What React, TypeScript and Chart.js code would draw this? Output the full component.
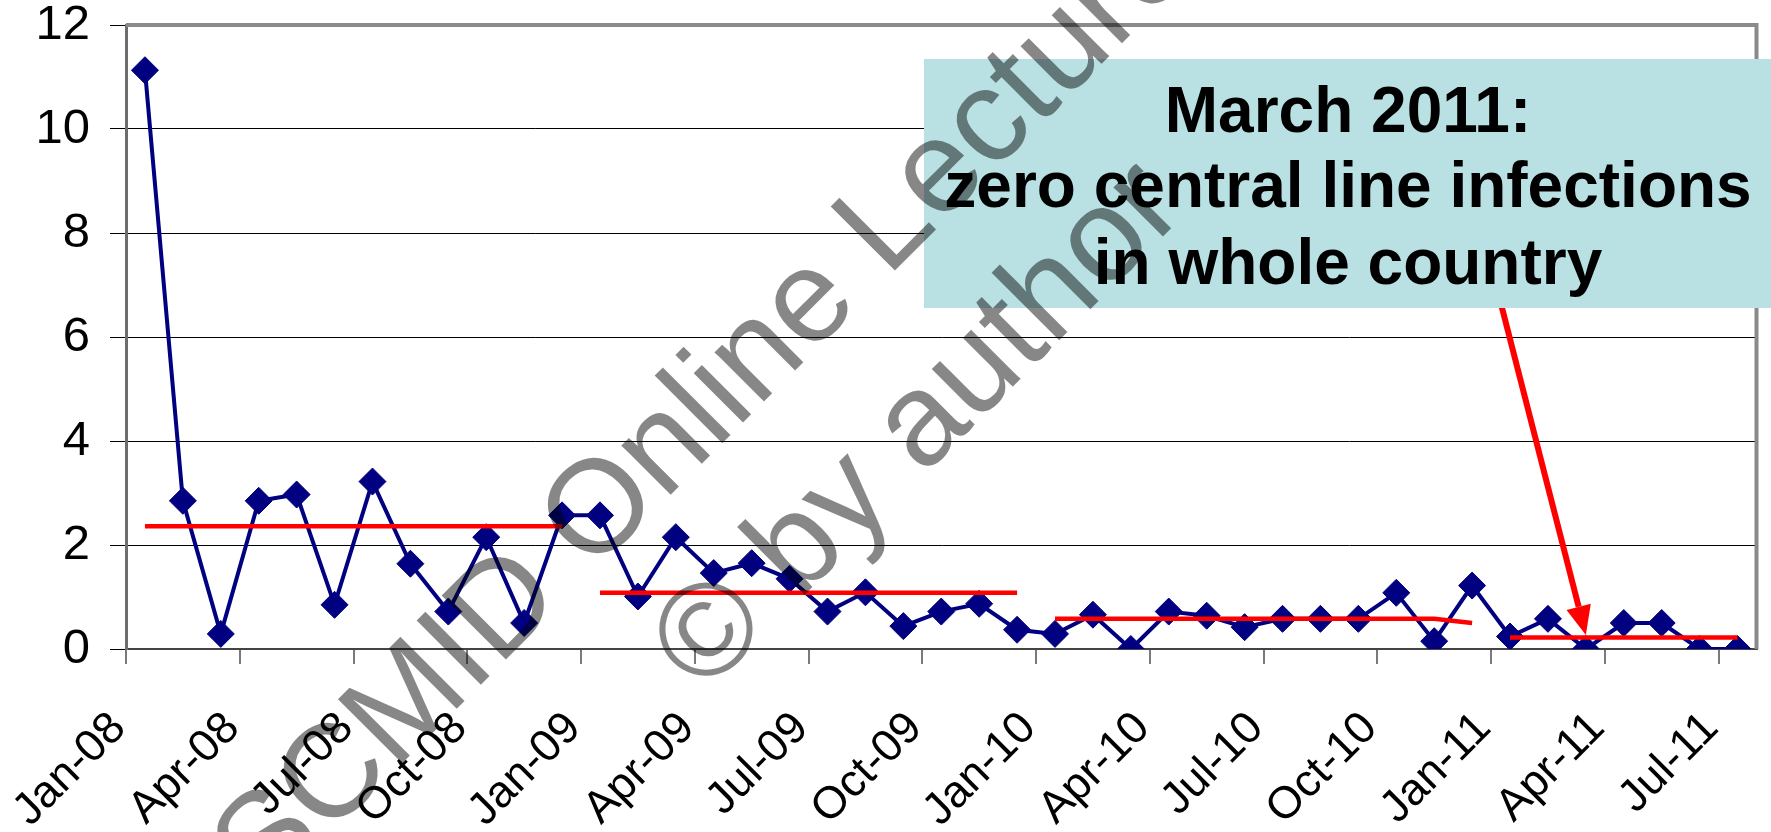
import React, { useEffect, useRef } from 'react';
import { Chart, registerables } from 'chart.js';

Chart.register(...registerables);

const FONT = '"Liberation Sans", Arial, sans-serif';

const months = [
  'Jan-08', 'Feb-08', 'Mar-08', 'Apr-08', 'May-08', 'Jun-08', 'Jul-08', 'Aug-08', 'Sep-08', 'Oct-08', 'Nov-08', 'Dec-08',
  'Jan-09', 'Feb-09', 'Mar-09', 'Apr-09', 'May-09', 'Jun-09', 'Jul-09', 'Aug-09', 'Sep-09', 'Oct-09', 'Nov-09', 'Dec-09',
  'Jan-10', 'Feb-10', 'Mar-10', 'Apr-10', 'May-10', 'Jun-10', 'Jul-10', 'Aug-10', 'Sep-10', 'Oct-10', 'Nov-10', 'Dec-10',
  'Jan-11', 'Feb-11', 'Mar-11', 'Apr-11', 'May-11', 'Jun-11', 'Jul-11',
];

const infectionRate = [
  11.13, 2.85, 0.29, 2.85, 2.97, 0.85, 3.22, 1.64, 0.72, 2.15, 0.50, 2.57,
  2.57, 1.01, 2.15, 1.46, 1.65, 1.35, 0.72, 1.09, 0.44, 0.72, 0.87, 0.37,
  0.29, 0.66, 0.00, 0.72, 0.64, 0.42, 0.58, 0.58, 0.58, 1.08, 0.15, 1.22,
  0.24, 0.58, 0.00, 0.50, 0.50, 0.00, 0.00,
];

const mean2008 = [{ x: 'Jan-08', y: 2.36 }, { x: 'Dec-08', y: 2.36 }];
const mean2009 = [{ x: 'Jan-09', y: 1.08 }, { x: 'Dec-09', y: 1.08 }];
const mean2010 = [{ x: 'Jan-10', y: 0.58 }, { x: 'Nov-10', y: 0.58 }, { x: 'Dec-10', y: 0.5 }];
const mean2011 = [{ x: 'Jan-11', y: 0.22 }, { x: 'Jul-11', y: 0.22 }];

const yMin = 0;
const yMax = 12;
const yStep = 2;

const calloutLines = ['March 2011:', 'zero central line infections', 'in whole country'];
const calloutMonth = 'Mar-11';
const arrowTipValue = 0.27;
const watermarkLines = ['SCMID Online Lecture', '\u00A9 by author'];

const decorPlugin = {
  id: 'decor',
  beforeDatasetsDraw(chart: any) {
    const { ctx, chartArea: a } = chart;
    ctx.save();
    ctx.strokeStyle = '#8a8a8a';
    ctx.lineWidth = 4;
    ctx.beginPath();
    ctx.moveTo(a.left, a.top);
    ctx.lineTo(a.right, a.top);
    ctx.lineTo(a.right, a.bottom);
    ctx.stroke();
    ctx.restore();
  },
  afterDraw(chart: any) {
    const { ctx } = chart;
    const xs = chart.scales.x;
    const ys = chart.scales.y;
    ctx.save();

    // arrow
    const tipX = xs.getPixelForValue(months.indexOf(calloutMonth));
    const tipY = ys.getPixelForValue(arrowTipValue);
    const sx = 1500;
    const sy = 300;
    const ang = Math.atan2(tipY - sy, tipX - sx);
    const headLen = 29;
    const headHalf = 12.5;
    const bx = tipX - headLen * Math.cos(ang);
    const by = tipY - headLen * Math.sin(ang);
    ctx.strokeStyle = '#ff0000';
    ctx.fillStyle = '#ff0000';
    ctx.lineWidth = 6;
    ctx.beginPath();
    ctx.moveTo(sx, sy);
    ctx.lineTo(bx, by);
    ctx.stroke();
    ctx.beginPath();
    ctx.moveTo(tipX, tipY);
    ctx.lineTo(bx + headHalf * Math.sin(ang), by - headHalf * Math.cos(ang));
    ctx.lineTo(bx - headHalf * Math.sin(ang), by + headHalf * Math.cos(ang));
    ctx.closePath();
    ctx.fill();

    // callout box
    ctx.fillStyle = '#B9E0E3';
    ctx.fillRect(924, 59, 847, 249);
    ctx.fillStyle = '#000';
    ctx.font = 'bold 64px ' + FONT;
    ctx.textAlign = 'center';
    ctx.textBaseline = 'alphabetic';
    const baselines = [132, 207, 284];
    calloutLines.forEach((t, i) => ctx.fillText(t, 1348, baselines[i]));

    // watermark
    ctx.fillStyle = 'rgba(0,0,0,0.47)';
    ctx.font = '132px ' + FONT;
    ctx.textBaseline = 'middle';
    const centers = [[706, 408], [920, 428]];
    watermarkLines.forEach((t, i) => {
      ctx.save();
      ctx.translate(centers[i][0], centers[i][1]);
      ctx.rotate(-Math.PI / 4);
      ctx.fillText(t, 0, 0);
      ctx.restore();
    });
    ctx.restore();
  },
};

export default function App() {
  const ref = useRef<HTMLCanvasElement>(null);
  useEffect(() => {
    const chart = new Chart(ref.current as HTMLCanvasElement, {
      type: 'line',
      data: {
        labels: months,
        datasets: [
          { data: mean2008 as any, borderColor: '#ff0000', borderWidth: 4.5, pointRadius: 0, fill: false },
          { data: mean2009 as any, borderColor: '#ff0000', borderWidth: 4.5, pointRadius: 0, fill: false },
          { data: mean2010 as any, borderColor: '#ff0000', borderWidth: 4.5, pointRadius: 0, fill: false },
          { data: mean2011 as any, borderColor: '#ff0000', borderWidth: 4.5, pointRadius: 0, fill: false },
          {
            data: infectionRate,
            borderColor: '#000080',
            borderWidth: 4,
            pointStyle: 'rectRot',
            pointRadius: 13.5,
            pointBackgroundColor: '#000080',
            pointBorderColor: '#000080',
            pointBorderWidth: 1,
            tension: 0,
            fill: false,
          },
        ],
      },
      options: {
        responsive: false,
        animation: false,
        layout: { padding: { left: 0, right: 12, top: 25, bottom: 0 } },
        plugins: { legend: { display: false }, tooltip: { enabled: false } },
        scales: {
          x: {
            type: 'category',
            offset: true,
            grid: {
              display: true,
              drawOnChartArea: false,
              drawTicks: true,
              tickLength: 15,
              offset: true,
              lineWidth: 2,
              color: (c: any) => (c.index !== undefined && c.index % 3 === 0 ? '#7a7a7a' : 'rgba(0,0,0,0)'),
            },
            border: { display: true, color: '#444', width: 2 },
            ticks: {
              autoSkip: false,
              maxRotation: 45,
              minRotation: 45,
              labelOffset: -26,
              padding: 38,
              color: '#000',
              font: { family: FONT, size: 45 },
              callback: function (this: any, value: any, index: number) {
                return index % 3 === 0 ? this.getLabelForValue(value) : '';
              },
            },
            afterFit: (s: any) => {
              s.height = 183;
              s.paddingLeft = 0;
              s.paddingRight = 0;
              s.paddingTop = 0;
              s.paddingBottom = 0;
            },
          },
          y: {
            min: yMin,
            max: yMax,
            ticks: { stepSize: yStep, padding: 20, color: '#000', font: { family: FONT, size: 49, lineHeight: 1 } },
            grid: {
              color: (c: any) => (c.tick && (c.tick.value === yMin || c.tick.value === yMax) ? 'rgba(0,0,0,0)' : '#000'),
              tickColor: '#000',
              tickLength: 16,
              lineWidth: 1,
            },
            border: { display: true, color: '#6d6d6d', width: 3 },
            afterFit: (s: any) => {
              s.width = 126;
              s.paddingLeft = 0;
              s.paddingRight = 0;
              s.paddingTop = 0;
              s.paddingBottom = 0;
            },
          },
        },
      } as any,
      plugins: [decorPlugin],
    });
    return () => chart.destroy();
  }, []);
  return (
    <div style={{ position: 'fixed', left: 0, top: 0, width: 1771, height: 832, background: '#fff' }}>
      <canvas ref={ref} width={1771} height={832} style={{ display: 'block' }} />
    </div>
  );
}
